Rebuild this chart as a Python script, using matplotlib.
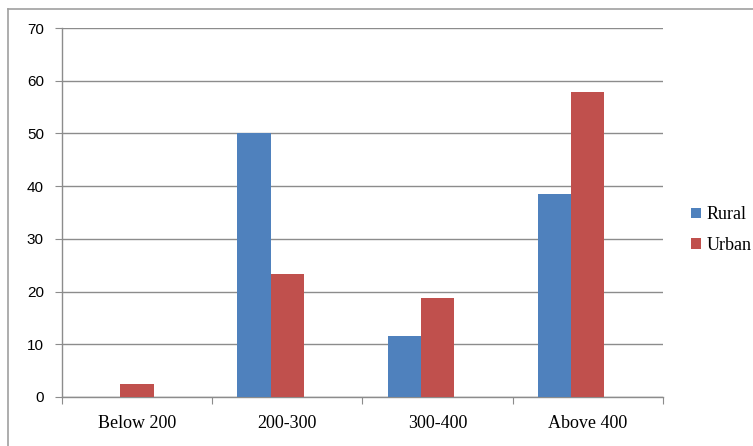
import numpy as np
import matplotlib.pyplot as plt
from matplotlib.lines import Line2D

categories = ['Below 200', '200-300', '300-400', 'Above 400']
rural = [0, 50, 11.5, 38.5]
urban = [2.5, 23.3, 18.8, 57.8]

blue = '#4F81BD'
red = '#C0504D'
grid_col = '#8C8C8C'

fig = plt.figure(figsize=(7.53, 4.46), dpi=100)
ax = fig.add_axes([0.0823, 0.1099, 0.798, 0.8273])

x = np.arange(len(categories))
w = 0.222
ax.bar(x - w, rural, width=w, color=blue, label='Rural', zorder=3)
ax.bar(x, urban, width=w, color=red, label='Urban', zorder=3)

ax.set_xlim(-0.5, 3.5)
ax.set_ylim(0, 70)
ax.set_yticks(range(0, 71, 10))
ax.yaxis.grid(True, color=grid_col, linewidth=1.0, zorder=0)

for side in ['top', 'right']:
    ax.spines[side].set_visible(False)
for side in ['left', 'bottom']:
    ax.spines[side].set_color(grid_col)
    ax.spines[side].set_linewidth(1.0)

# category boundaries carry the tick marks, centres carry the labels
ax.set_xticks(np.arange(-0.5, 3.6, 1.0))
ax.set_xticklabels([])
ax.set_xticks(x, minor=True)
ax.set_xticklabels(categories, minor=True, fontfamily='Liberation Serif', fontsize=13)
ax.tick_params(axis='x', which='major', length=5, color=grid_col, direction='out')
ax.tick_params(axis='x', which='minor', length=0, pad=13)
ax.tick_params(axis='y', length=5, color=grid_col, direction='out', pad=8,
               labelsize=11)
for lab in ax.get_yticklabels():
    lab.set_fontfamily('Liberation Sans')

leg = fig.legend(loc='center left', bbox_to_anchor=(0.918, 0.484), frameon=False,
                 prop={'family': 'Liberation Serif', 'size': 13},
                 borderaxespad=0, borderpad=0,
                 handlelength=0.55, handleheight=0.55, handletextpad=0.3,
                 labelspacing=0.75)

# chart frame
fig.add_artist(Line2D([0.0106, 1.0], [0.98, 0.98], color='#A0A0A0', lw=1.2))
fig.add_artist(Line2D([0.0106, 0.0106], [0.0, 0.98], color='#A0A0A0', lw=1.2))

fig.savefig('out.png', dpi=100)
